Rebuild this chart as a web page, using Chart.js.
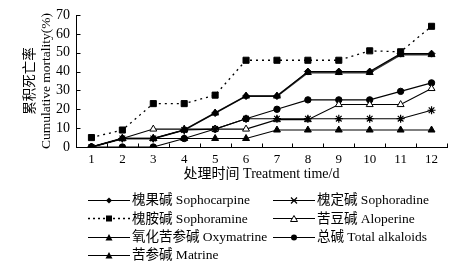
<!DOCTYPE html>
<html>
<head>
<meta charset="utf-8">
<script src="https://cdn.jsdelivr.net/npm/chart.js@4/dist/chart.umd.min.js"></script>
<style>
  html, body { margin: 0; padding: 0; background: #fff; }
  #wrap { position: relative; width: 458px; height: 268px; overflow: hidden; }
  canvas { position: absolute; left: 0; top: 0; }
  .lg { position: absolute; font-family: "Liberation Serif", "Noto Sans CJK SC", serif; font-size: 13.5px; color: #000; white-space: nowrap; line-height: 16px; }
  .ic { position: absolute; }
</style>
</head>
<body>
<div id="wrap">
  <canvas id="c" width="458" height="268"></canvas>
  <div id="legend"></div>
</div>
<script>
// ---- data ----
const days = ['1','2','3','4','5','6','7','8','9','10','11','12'];
const sophocarpine = [0, 4.5, 4.5, 9, 18, 27, 27, 40, 40, 40, 49.5, 49.5];
const sophoradine  = [0, 4.5, 4.5, 9, 9.5, 15, 15, 15, 15, 15, 15, 19.5];
const sophoramine  = [5, 9, 23, 23, 27.5, 46, 46, 46, 46, 51, 50.5, 64];
const aloperine    = [0, 4.5, 9.5, 9.5, 9.5, 9.5, 14.5, 14.5, 22.5, 22.5, 22.5, 31];
const oxymatrine   = [0, 4.5, 4.5, 9, 18, 27, 27, 39.5, 39.5, 39.5, 49, 49];
const totalAlk     = [0, 0, 0, 4.5, 9.5, 15, 20, 25, 25, 25, 29.5, 34];
const matrine      = [0, 4.5, 4.5, 4.5, 4.5, 4.5, 9, 9, 9, 9, 9, 9];
const yTicks = [0, 10, 20, 30, 40, 50, 60, 70];
const names = {
  sophocarpine: '槐果碱 Sophocarpine',
  sophoradine: '槐定碱 Sophoradine',
  sophoramine: '槐胺碱 Sophoramine',
  aloperine: '苦豆碱 Aloperine',
  oxymatrine: '氧化苦参碱 Oxymatrine',
  totalAlk: '总碱 Total alkaloids',
  matrine: '苦参碱 Matrine'
};
const xTitle = '处理时间 Treatment time/d';
const yTitle = ['累积死亡率', 'Cumulative mortality(%)'];

const FONT = '"Liberation Serif", "Noto Sans CJK SC", serif';
Chart.defaults.font.family = FONT;
Chart.defaults.font.size = 13;
Chart.defaults.color = '#000';

function ds(label, data, style, extra) {
  return Object.assign({
    label, data,
    borderColor: '#000', borderWidth: 1.1,
    pointBackgroundColor: '#000', pointBorderColor: '#000', pointBorderWidth: 1,
    pointStyle: style, pointRadius: 3.5, tension: 0, fill: false
  }, extra || {});
}

const tickMarks = {
  id: 'tickMarks',
  afterDraw(chart) {
    const ctx = chart.ctx, xs = chart.scales.x, ys = chart.scales.y;
    ctx.save();
    ctx.strokeStyle = '#000'; ctx.lineWidth = 1;
    const step = xs.getPixelForValue(1) - xs.getPixelForValue(0);
    const yb = Math.round(ys.bottom) + 0.5;
    for (let i = 0; i <= days.length; i++) {
      const x = Math.round(xs.getPixelForValue(i) - step / 2) + 0.5;
      ctx.beginPath(); ctx.moveTo(x, yb); ctx.lineTo(x, yb - 4); ctx.stroke();
    }
    const xl = Math.round(xs.left) + 0.5;
    yTicks.forEach(v => {
      const y = Math.round(ys.getPixelForValue(v)) + 0.5;
      ctx.beginPath(); ctx.moveTo(xl, y); ctx.lineTo(xl + 4, y); ctx.stroke();
    });
    ctx.restore();
  }
};

new Chart(document.getElementById('c'), {
  type: 'line',
  data: {
    labels: days,
    datasets: [
      ds(names.sophocarpine, sophocarpine, 'rectRot', {pointRadius: 3.5}),
      ds(names.sophoradine, sophoradine, 'star', {pointRadius: 4, pointBorderWidth: 1.2}),
      ds(names.sophoramine, sophoramine, 'rect', {borderDash: [2, 4], pointRadius: 4.3, borderWidth: 1.3}),
      ds(names.aloperine, aloperine, 'triangle', {pointBackgroundColor: '#fff', pointRadius: 4}),
      ds(names.oxymatrine, oxymatrine, 'triangle', {pointRadius: 4, borderColor: '#333', borderWidth: 1.8}),
      ds(names.totalAlk, totalAlk, 'circle', {pointRadius: 3.2}),
      ds(names.matrine, matrine, 'triangle', {pointRadius: 4})
    ]
  },
  options: {
    responsive: false,
    animation: false,
    layout: { padding: { left: 0, top: 15, right: 11, bottom: 84 } },
    plugins: { legend: { display: false }, tooltip: { enabled: false } },
    scales: {
      x: {
        type: 'category',
        offset: true,
        border: { display: true, color: '#000', width: 1 },
        grid: { display: false, drawTicks: false, offset: true },
        ticks: { padding: 5, autoSkip: false, maxRotation: 0, font: { size: 13 } },
        title: { display: true, text: xTitle, padding: { top: 0, bottom: 1 }, font: { size: 14 } },
        afterFit(s) { s.height = 37; }
      },
      y: {
        min: 0, max: 70,
        afterBuildTicks(s) { s.ticks = yTicks.map(v => ({ value: v })); },
        border: { display: true, color: '#000', width: 1 },
        grid: { display: false, drawTicks: false },
        ticks: { padding: 6, autoSkip: false, font: { size: 14 } },
        title: { display: true, text: yTitle, padding: { top: 22, bottom: 0 }, font: { size: 13.5 } },
        afterFit(s) { s.width = 76; }
      }
    }
  },
  plugins: [tickMarks]
});

// ---- legend (HTML text + small svg symbols) ----
function sym(type) {
  const cx = 21, cy = 6.5;
  switch (type) {
    case 'diamond': return `<polygon points="${cx},${cy-3} ${cx+3},${cy} ${cx},${cy+3} ${cx-3},${cy}" fill="#000"/>`;
    case 'x': return `<path d="M${cx-3},${cy-3}L${cx+3},${cy+3}M${cx+3},${cy-3}L${cx-3},${cy+3}" stroke="#000" stroke-width="1.2"/>`;
    case 'square': return `<rect x="${cx-3}" y="${cy-3}" width="6" height="6" fill="#000"/>`;
    case 'otri': return `<polygon points="${cx},${cy-3} ${cx+3.5},${cy+3} ${cx-3.5},${cy+3}" fill="#fff" stroke="#000" stroke-width="1"/>`;
    case 'ftri': return `<polygon points="${cx},${cy-3.5} ${cx+3.5},${cy+3} ${cx-3.5},${cy+3}" fill="#000"/>`;
    case 'circle': return `<circle cx="${cx}" cy="${cy}" r="3" fill="#000"/>`;
  }
}
const legendItems = [
  { text: names.sophocarpine, type: 'diamond', col: 0, row: 0 },
  { text: names.sophoradine, type: 'x', col: 1, row: 0 },
  { text: names.sophoramine, type: 'square', col: 0, row: 1, dotted: true },
  { text: names.aloperine, type: 'otri', col: 1, row: 1 },
  { text: names.oxymatrine, type: 'ftri', col: 0, row: 2 },
  { text: names.totalAlk, type: 'circle', col: 1, row: 2 },
  { text: names.matrine, type: 'ftri', col: 0, row: 3 }
];
const rowsY = [200, 218.5, 237, 255];
const colX = [88, 273];
const lg = document.getElementById('legend');
legendItems.forEach(it => {
  const x = colX[it.col], y = rowsY[it.row];
  const line = it.dotted
    ? `<line x1="0" y1="6.5" x2="42" y2="6.5" stroke="#000" stroke-width="1.3" stroke-dasharray="2,3"/>`
    : `<line x1="0" y1="6.5" x2="42" y2="6.5" stroke="#000" stroke-width="1"/>`;
  const svg = document.createElementNS('http://www.w3.org/2000/svg', 'svg');
  svg.setAttribute('width', '42'); svg.setAttribute('height', '13');
  svg.setAttribute('class', 'ic');
  svg.style.left = x + 'px'; svg.style.top = (y - 6.5) + 'px';
  svg.innerHTML = line + sym(it.type);
  lg.appendChild(svg);
  const d = document.createElement('div');
  d.className = 'lg';
  d.style.left = (x + 44) + 'px'; d.style.top = (y - 8) + 'px';
  d.textContent = it.text;
  lg.appendChild(d);
});
</script>
</body>
</html>
